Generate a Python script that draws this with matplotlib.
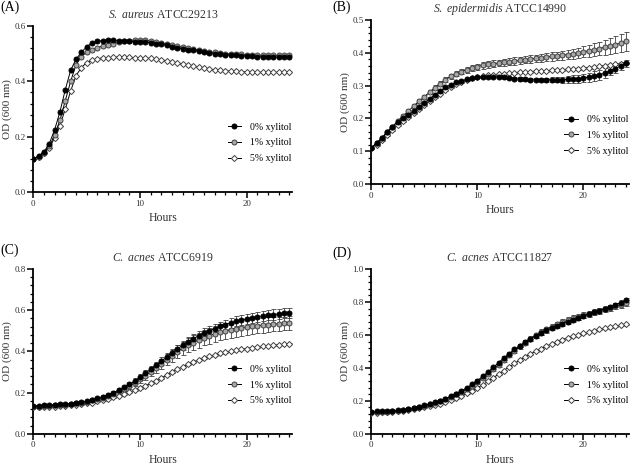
import numpy as np
import matplotlib
matplotlib.use('Agg')
import matplotlib.pyplot as plt
from matplotlib.ticker import MultipleLocator, AutoMinorLocator

plt.rcParams['font.family'] = ['Liberation Serif', 'DejaVu Serif']
plt.rcParams['mathtext.fontset'] = 'custom'
plt.rcParams['mathtext.rm'] = 'Liberation Serif'
plt.rcParams['mathtext.it'] = 'Liberation Serif:italic'

hours = [i * 0.5 for i in range(49)]

# (A) S. aureus ATCC29213
a0 = [0.12, 0.13, 0.145, 0.175, 0.225, 0.29, 0.37, 0.44, 0.48, 0.505, 0.525, 0.54, 0.545, 0.548, 0.55, 0.55,
      0.548, 0.546, 0.545, 0.544, 0.543, 0.542, 0.54, 0.537, 0.534, 0.53, 0.526, 0.522, 0.518, 0.515, 0.512,
      0.509, 0.506, 0.503, 0.501, 0.499, 0.497, 0.495, 0.494, 0.493, 0.492, 0.491, 0.49, 0.489, 0.488, 0.488,
      0.487, 0.487, 0.487]
a1 = [0.12, 0.128, 0.142, 0.165, 0.205, 0.26, 0.33, 0.4, 0.46, 0.49, 0.505, 0.515, 0.522, 0.528, 0.533, 0.537,
      0.541, 0.545, 0.548, 0.55, 0.55, 0.549, 0.547, 0.544, 0.54, 0.536, 0.532, 0.528, 0.524, 0.52, 0.516,
      0.513, 0.51, 0.507, 0.505, 0.503, 0.501, 0.5, 0.499, 0.498, 0.497, 0.496, 0.495, 0.495, 0.494, 0.494,
      0.494, 0.494, 0.495]
a5 = [0.12, 0.127, 0.14, 0.16, 0.195, 0.24, 0.3, 0.365, 0.42, 0.45, 0.468, 0.477, 0.482, 0.485, 0.486, 0.487,
      0.488, 0.488, 0.487, 0.486, 0.485, 0.484, 0.483, 0.481, 0.478, 0.475, 0.471, 0.467, 0.463, 0.459, 0.455,
      0.451, 0.448, 0.445, 0.442, 0.44, 0.438, 0.437, 0.436, 0.435, 0.434, 0.434, 0.433, 0.433, 0.433, 0.433,
      0.433, 0.433, 0.433]

# (B) S. epidermidis ATCC14990
b0 = [0.11, 0.125, 0.14, 0.16, 0.175, 0.19, 0.2, 0.21, 0.222, 0.235, 0.248, 0.26, 0.272, 0.284, 0.295, 0.303,
      0.31, 0.315, 0.319, 0.322, 0.325, 0.326, 0.327, 0.327, 0.326, 0.325, 0.323, 0.321, 0.32, 0.319, 0.318,
      0.318, 0.318, 0.318, 0.318, 0.318, 0.318, 0.319, 0.32, 0.321, 0.323, 0.326, 0.329, 0.333, 0.338, 0.345,
      0.352, 0.36, 0.368]
b1 = [0.11, 0.125, 0.14, 0.158, 0.175, 0.192, 0.208, 0.222, 0.238, 0.252, 0.266, 0.28, 0.294, 0.306, 0.318,
      0.328, 0.336, 0.343, 0.349, 0.354, 0.358, 0.362, 0.365, 0.367, 0.369, 0.371, 0.373, 0.375, 0.377, 0.379,
      0.381, 0.383, 0.385, 0.387, 0.389, 0.391, 0.393, 0.395, 0.397, 0.4, 0.403, 0.406, 0.409, 0.413, 0.417,
      0.421, 0.425, 0.43, 0.435]
b5 = [0.11, 0.12, 0.133, 0.15, 0.165, 0.18, 0.192, 0.204, 0.216, 0.228, 0.24, 0.252, 0.264, 0.276, 0.287,
      0.297, 0.305, 0.312, 0.318, 0.322, 0.326, 0.329, 0.331, 0.333, 0.335, 0.337, 0.338, 0.34, 0.341, 0.342,
      0.343, 0.344, 0.345, 0.346, 0.347, 0.348, 0.349, 0.35, 0.351, 0.352, 0.353, 0.355, 0.357, 0.359, 0.361,
      0.363, 0.365, 0.367, 0.369]
b0_err = [0.003, 0.003, 0.003, 0.003, 0.003, 0.003, 0.003, 0.003, 0.003, 0.003, 0.003, 0.003, 0.003, 0.003,
          0.003, 0.003, 0.003, 0.003, 0.003, 0.003, 0.003, 0.003, 0.004, 0.004, 0.004, 0.004, 0.004, 0.004,
          0.005, 0.005, 0.005, 0.005, 0.006, 0.006, 0.007, 0.008, 0.009, 0.01, 0.011, 0.012, 0.013, 0.014,
          0.015, 0.015, 0.015, 0.014, 0.013, 0.012, 0.01]
b1_err = [0.003, 0.003, 0.003, 0.004, 0.004, 0.004, 0.005, 0.005, 0.005, 0.006, 0.006, 0.006, 0.007, 0.007,
          0.007, 0.008, 0.008, 0.008, 0.009, 0.009, 0.009, 0.01, 0.01, 0.01, 0.01, 0.01, 0.01, 0.011, 0.011,
          0.011, 0.011, 0.012, 0.012, 0.012, 0.013, 0.013, 0.014, 0.014, 0.015, 0.016, 0.017, 0.018, 0.02,
          0.021, 0.022, 0.024, 0.026, 0.028, 0.03]
b5_err = [0.003] * 49

# (C) C. acnes ATCC6919
c0 = [0.135, 0.137, 0.138, 0.14, 0.141, 0.143, 0.145, 0.147, 0.15, 0.154, 0.159, 0.165, 0.172, 0.18, 0.19,
      0.2, 0.212, 0.225, 0.24, 0.256, 0.274, 0.293, 0.313, 0.333, 0.353, 0.373, 0.393, 0.412, 0.43, 0.447,
      0.462, 0.476, 0.489, 0.5, 0.511, 0.521, 0.53, 0.538, 0.546, 0.552, 0.558, 0.563, 0.568, 0.572, 0.576,
      0.579, 0.582, 0.585, 0.588]
c1 = [0.13, 0.132, 0.134, 0.136, 0.138, 0.14, 0.142, 0.145, 0.148, 0.152, 0.156, 0.162, 0.168, 0.176, 0.185,
      0.195, 0.206, 0.218, 0.232, 0.247, 0.264, 0.282, 0.301, 0.32, 0.34, 0.36, 0.38, 0.398, 0.415, 0.43,
      0.443, 0.455, 0.466, 0.476, 0.485, 0.493, 0.5, 0.506, 0.511, 0.515, 0.519, 0.522, 0.525, 0.528, 0.53,
      0.532, 0.534, 0.536, 0.538]
c5 = [0.128, 0.129, 0.13, 0.131, 0.132, 0.134, 0.136, 0.138, 0.141, 0.144, 0.148, 0.152, 0.157, 0.163, 0.17,
      0.177, 0.185, 0.193, 0.202, 0.212, 0.222, 0.233, 0.245, 0.258, 0.271, 0.285, 0.299, 0.313, 0.326, 0.338,
      0.349, 0.359, 0.368, 0.376, 0.383, 0.39, 0.396, 0.401, 0.406, 0.41, 0.414, 0.418, 0.421, 0.424, 0.427,
      0.43, 0.432, 0.434, 0.437]
c0_err = [0.004, 0.004, 0.004, 0.004, 0.004, 0.004, 0.004, 0.005, 0.005, 0.005, 0.006, 0.006, 0.007, 0.008,
          0.009, 0.01, 0.011, 0.012, 0.013, 0.014, 0.015, 0.016, 0.017, 0.018, 0.019, 0.02, 0.02, 0.021, 0.021,
          0.022, 0.022, 0.022, 0.023, 0.023, 0.023, 0.023, 0.024, 0.024, 0.024, 0.024, 0.024, 0.024, 0.025,
          0.025, 0.025, 0.025, 0.025, 0.025, 0.025]
c1_err = [0.004, 0.004, 0.004, 0.004, 0.004, 0.004, 0.004, 0.005, 0.005, 0.005, 0.006, 0.006, 0.007, 0.008,
          0.009, 0.01, 0.011, 0.012, 0.013, 0.015, 0.017, 0.019, 0.021, 0.023, 0.025, 0.027, 0.029, 0.031,
          0.033, 0.034, 0.035, 0.036, 0.037, 0.038, 0.038, 0.039, 0.039, 0.039, 0.039, 0.039, 0.039, 0.038,
          0.038, 0.037, 0.036, 0.035, 0.034, 0.033, 0.032]
c5_err = [0.003] * 49

# (D) C. acnes ATCC11827
d0 = [0.135, 0.136, 0.137, 0.138, 0.14, 0.142, 0.146, 0.151, 0.157, 0.164, 0.172, 0.181, 0.191, 0.202, 0.214,
      0.228, 0.243, 0.26, 0.279, 0.3, 0.323, 0.348, 0.375, 0.403, 0.432, 0.46, 0.487, 0.512, 0.535, 0.556,
      0.576, 0.594, 0.611, 0.627, 0.642, 0.656, 0.669, 0.681, 0.693, 0.704, 0.715, 0.726, 0.737, 0.748, 0.759,
      0.771, 0.783, 0.796, 0.81]
d1 = [0.13, 0.131, 0.132, 0.134, 0.136, 0.139, 0.143, 0.148, 0.154, 0.161, 0.169, 0.178, 0.188, 0.199, 0.211,
      0.224, 0.239, 0.255, 0.273, 0.293, 0.315, 0.339, 0.365, 0.392, 0.42, 0.449, 0.477, 0.504, 0.53, 0.554,
      0.577, 0.598, 0.617, 0.634, 0.65, 0.664, 0.677, 0.689, 0.7, 0.71, 0.72, 0.729, 0.738, 0.747, 0.756,
      0.765, 0.774, 0.783, 0.792]
d5 = [0.128, 0.129, 0.13, 0.131, 0.133, 0.136, 0.139, 0.143, 0.148, 0.154, 0.16, 0.167, 0.175, 0.184, 0.194,
      0.205, 0.217, 0.23, 0.245, 0.261, 0.279, 0.298, 0.318, 0.34, 0.362, 0.384, 0.406, 0.427, 0.447, 0.466,
      0.484, 0.501, 0.517, 0.532, 0.546, 0.559, 0.571, 0.582, 0.592, 0.601, 0.61, 0.618, 0.626, 0.633, 0.64,
      0.646, 0.652, 0.658, 0.664]
d0_err = [0.004, 0.004, 0.004, 0.004, 0.004, 0.004, 0.004, 0.004, 0.005, 0.005, 0.005, 0.005, 0.006, 0.006,
          0.006, 0.007, 0.007, 0.007, 0.008, 0.008, 0.008, 0.009, 0.009, 0.01, 0.01, 0.01, 0.011, 0.011, 0.011,
          0.012, 0.012, 0.012, 0.012, 0.013, 0.013, 0.013, 0.013, 0.013, 0.013, 0.013, 0.013, 0.013, 0.013,
          0.013, 0.013, 0.013, 0.013, 0.013, 0.013]
d1_err = [0.004, 0.004, 0.004, 0.004, 0.004, 0.004, 0.004, 0.004, 0.005, 0.005, 0.005, 0.006, 0.006, 0.007,
          0.007, 0.008, 0.008, 0.009, 0.009, 0.01, 0.01, 0.011, 0.011, 0.012, 0.012, 0.013, 0.013, 0.014, 0.014,
          0.015, 0.015, 0.016, 0.016, 0.017, 0.017, 0.017, 0.018, 0.018, 0.018, 0.018, 0.018, 0.018, 0.018,
          0.018, 0.018, 0.018, 0.018, 0.018, 0.018]
d5_err = [0.003] * 49

labels = ['0% xylitol', '1% xylitol', '5% xylitol']

panels = [
    dict(tag='(A)', sp='S. aureus', strain='ATCC29213', ys=[a0, a1, a5], errs=None,
         ymax=0.6, ystep=0.2, rect=[0.052, 0.589, 0.405, 0.355], tagpos=(0.0, 0.998)),
    dict(tag='(B)', sp='S. epidermidis', strain='ATCC14990', ys=[b0, b1, b5], errs=[b0_err, b1_err, b5_err],
         ymax=0.5, ystep=0.1, rect=[0.580, 0.606, 0.403, 0.351], tagpos=(0.52, 0.998)),
    dict(tag='(C)', sp='C. acnes', strain='ATCC6919', ys=[c0, c1, c5], errs=[c0_err, c1_err, c5_err],
         ymax=0.8, ystep=0.2, rect=[0.052, 0.071, 0.405, 0.353], tagpos=(0.0, 0.478)),
    dict(tag='(D)', sp='C. acnes', strain='ATCC11827', ys=[d0, d1, d5], errs=[d0_err, d1_err, d5_err],
         ymax=1.0, ystep=0.2, rect=[0.580, 0.071, 0.403, 0.353], tagpos=(0.52, 0.473)),
]

styles = [dict(marker='o', mfc='black', mec='black', ms=3.6),
          dict(marker='o', mfc='#a8a8a8', mec='#404040', ms=3.6),
          dict(marker='D', mfc='white', mec='#404040', ms=3.1)]

fig = plt.figure(figsize=(6.4, 4.67), dpi=100)

for p in panels:
    ax = fig.add_axes(p['rect'])
    for i in [2, 1, 0]:
        st = styles[i]
        if p['errs'] is not None:
            ax.errorbar(hours, p['ys'][i], yerr=p['errs'][i], fmt='none', ecolor='#404040',
                        elinewidth=0.6, capsize=1.8, capthick=0.6, zorder=2)
        ax.plot(hours, p['ys'][i], color='black', lw=0.7, marker=st['marker'], mfc=st['mfc'],
                mec=st['mec'], ms=st['ms'], mew=0.7, label=labels[i], zorder=3 + (2 - i))
    ax.set_xlim(0, 24.3)
    ax.set_ylim(0, p['ymax'])
    ax.xaxis.set_major_locator(MultipleLocator(10))
    ax.xaxis.set_minor_locator(MultipleLocator(1))
    ax.yaxis.set_major_locator(MultipleLocator(p['ystep']))
    ax.yaxis.set_minor_locator(AutoMinorLocator(5))
    ax.yaxis.set_major_formatter(plt.FormatStrFormatter('%.1f'))
    for s in ['top', 'right']:
        ax.spines[s].set_visible(False)
    for s in ['left', 'bottom']:
        ax.spines[s].set_linewidth(1.3)
    ax.tick_params(which='major', length=4, width=1.1, labelsize=6.5, pad=1.5, colors='black',
                   labelcolor='#333333')
    ax.tick_params(which='minor', length=2.5, width=0.9)
    ax.set_xlabel('Hours', fontsize=8.5, color='#333333', labelpad=3)
    ax.set_ylabel('OD (600 nm)', fontsize=8, color='#333333', labelpad=2)
    genus, species = p['sp'].split(' ')
    ax.set_title(r'$\it{' + genus + '}$ $\it{' + species + '}$ ' + p['strain'], fontsize=8.5,
                 color='#333333', pad=6)
    h, l = ax.get_legend_handles_labels()
    ax.legend(h[::-1], l[::-1], loc='lower right', bbox_to_anchor=(1.03, 0.12), frameon=False,
              fontsize=7, handlelength=1.4, labelspacing=0.7, handletextpad=0.9)
    fig.text(p['tagpos'][0], p['tagpos'][1], p['tag'], fontsize=10, va='top', ha='left')

fig.savefig('out.png', dpi=100)
